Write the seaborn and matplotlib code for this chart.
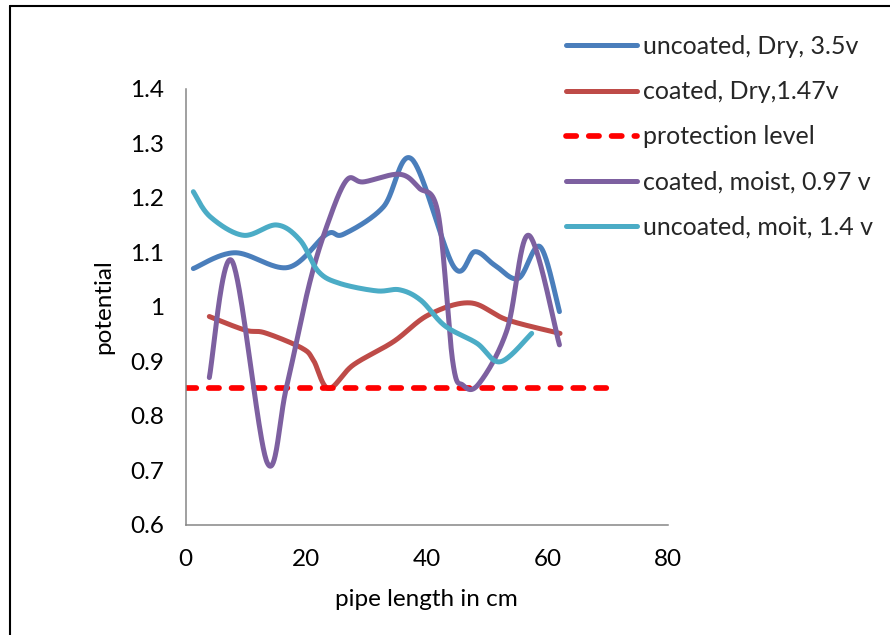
import numpy as np
import pandas as pd
import matplotlib
matplotlib.use("Agg")
import matplotlib.pyplot as plt
from matplotlib.lines import Line2D
import seaborn as sns

# Potential readings along the pipe (cm -> V)
unc_dry_x = [1.3, 8.2, 17.0, 23.4, 26.2, 32.8, 37.5, 44.5, 48.0, 51.3, 55.2, 58.8, 62.0]
unc_dry_v = [1.070, 1.099, 1.072, 1.133, 1.133, 1.183, 1.271, 1.073, 1.101, 1.076, 1.052, 1.110, 0.991]

coat_dry_x = [3.95, 9.9, 13.2, 19.3, 21.2, 23.7, 27.8, 34.5, 40.3, 47.2, 53.3, 62.1]
coat_dry_v = [0.982, 0.957, 0.952, 0.924, 0.902, 0.850, 0.893, 0.936, 0.985, 1.007, 0.976, 0.951]

coat_moist_x = [3.95, 7.7, 13.5, 16.7, 20.5, 23.5, 26.7, 29.5, 35.5, 38.7, 41.9, 44.3, 46.0, 48.6, 53.3, 56.9, 62.0]
coat_moist_v = [0.870, 1.084, 0.715, 0.850, 1.040, 1.150, 1.232, 1.229, 1.243, 1.218, 1.170, 0.900, 0.856, 0.858, 0.957, 1.131, 0.930]

unc_moist_x = [1.3, 4.1, 9.6, 15.1, 19.0, 22.0, 25.5, 31.7, 35.5, 39.0, 43.0, 48.3, 52.2, 57.4]
unc_moist_v = [1.211, 1.165, 1.131, 1.150, 1.122, 1.065, 1.043, 1.029, 1.031, 1.012, 0.965, 0.933, 0.899, 0.951]

protection_x = [0, 70]
protection_v = [0.85, 0.85]

labels = ["uncoated, Dry, 3.5v", "coated, Dry,1.47v", "protection level",
          "coated, moist, 0.97 v", "uncoated, moit, 1.4 v"]
colors = ["#4A7EBB", "#BE4B48", "#FF0000", "#7D60A0", "#4BACC6"]

x_ticks = [0, 20, 40, 60, 80]
y_ticks = [0.6, 0.7, 0.8, 0.9, 1.0, 1.1, 1.2, 1.3, 1.4]
y_ticklabels = ["0.6", "0.7", "0.8", "0.9", "1", "1.1", "1.2", "1.3", "1.4"]


def smooth(x, y, n=40):
    """Spreadsheet-style smoothed line: cubic Bezier through every point."""
    P = np.column_stack([x, y]).astype(float)
    ext = np.vstack([P[0], P, P[-1]])
    parts = []
    t = np.linspace(0, 1, n, endpoint=False)[:, None]
    for i in range(len(P) - 1):
        p0, p1, p2, p3 = ext[i], ext[i + 1], ext[i + 2], ext[i + 3]
        c1 = p1 + (p2 - p0) / 6
        c2 = p2 - (p3 - p1) / 6
        parts.append((1 - t) ** 3 * p1 + 3 * (1 - t) ** 2 * t * c1
                     + 3 * (1 - t) * t ** 2 * c2 + t ** 3 * p2)
    parts.append(P[-1:])
    return np.vstack(parts)


sns.set_theme(style="white")
plt.rcParams["font.family"] = ["Lato", "DejaVu Sans"]
FS = 17.5
LEG_FS = 18

fig = plt.figure(figsize=(8.9, 6.35), dpi=100)
ax = fig.add_axes([185.5 / 890, 1 - 524.7 / 635, (668 - 185.5) / 890, (524.7 - 88.7) / 635])

series = [(unc_dry_x, unc_dry_v), (coat_dry_x, coat_dry_v), None,
          (coat_moist_x, coat_moist_v), (unc_moist_x, unc_moist_v)]
handles = []
for lab, col, s in zip(labels, colors, series):
    if s is None:
        df = pd.DataFrame({"x": protection_x, "v": protection_v})
        sns.lineplot(data=df, x="x", y="v", ax=ax, color=col, lw=4.1,
                     estimator=None, sort=False)
        ln = ax.lines[-1]
        ln.set_dashes((1.8, 2.2))
        ln.set_dash_capstyle("round")
        handles.append(Line2D([], [], color=col, lw=4.1, dashes=(1.8, 2.2),
                              dash_capstyle="round"))
    else:
        pts = smooth(*s)
        df = pd.DataFrame({"x": pts[:, 0], "v": pts[:, 1]})
        sns.lineplot(data=df, x="x", y="v", ax=ax, color=col, lw=3.6,
                     estimator=None, sort=False)
        ax.lines[-1].set_solid_capstyle("round")
        handles.append(Line2D([], [], color=col, lw=3.6, solid_capstyle="round"))

ax.set_xlim(0, 80)
ax.set_ylim(0.6, 1.4)
ax.set_xticks(x_ticks)
ax.set_yticks(y_ticks)
ax.set_yticklabels(y_ticklabels)
for sp in ["top", "right"]:
    ax.spines[sp].set_visible(False)
for sp in ["left", "bottom"]:
    ax.spines[sp].set_color("#868686")
    ax.spines[sp].set_linewidth(1.1)
ax.tick_params(axis="both", which="major", direction="out", length=5.5, width=1.1,
               color="#868686", labelsize=FS, labelcolor="black")
ax.tick_params(axis="y", pad=10)
ax.tick_params(axis="x", pad=12)
ax.set_xlabel("pipe length in cm", fontsize=FS, color="black", labelpad=14)
ax.set_ylabel("potential", fontsize=FS, color="black", labelpad=11)

fig.legend(handles, labels, loc="upper left", bbox_to_anchor=(566 / 890, 1 - 35 / 635),
           frameon=False, fontsize=LEG_FS, handlelength=2.84, handletextpad=0.25,
           labelspacing=0.89, borderpad=0, borderaxespad=0)

# outer chart frame
fig.add_artist(Line2D([9.5 / 890, 9.5 / 890], [0, 1 - 6 / 635], transform=fig.transFigure,
                      color="black", lw=1.5))
fig.add_artist(Line2D([9.5 / 890, 1], [1 - 6 / 635, 1 - 6 / 635], transform=fig.transFigure,
                      color="black", lw=1.5))

fig.savefig("out.png", dpi=100)
